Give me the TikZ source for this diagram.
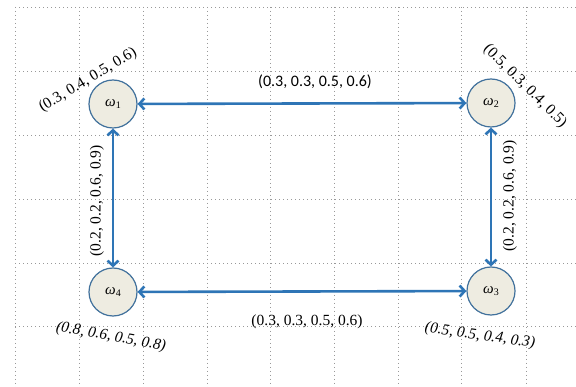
\documentclass[tikz,border=0pt]{standalone}
\usepackage{fontspec}
\setmainfont{Liberation Serif}
\newfontfamily\calfont{Carlito}
\usetikzlibrary{arrows.meta}
\definecolor{arrowblue}{HTML}{2E75B6}
\definecolor{nodeborder}{HTML}{41719C}
\definecolor{nodefill}{HTML}{EEECE1}
\definecolor{gridgray}{HTML}{999999}
\newcommand{\omg}[1]{{\itshape ω}\raisebox{-0.35ex}{\fontsize{10}{11}\selectfont #1}}
\tikzset{
  state/.style={circle, draw=nodeborder, fill=nodefill, line width=1.2pt, minimum size=48pt, inner sep=0pt, font=\fontsize{15}{17}\selectfont},
  link/.style={draw=arrowblue, line width=2.6pt, {Straight Barb[length=5pt,width=11pt]}-{Straight Barb[length=5pt,width=11pt]}},
  gridline/.style={draw=gridgray, line width=0.8pt, dash pattern=on 0.8pt off 3.2pt},
  lab/.style={inner sep=0pt, font=\fontsize{15.5}{17}\selectfont},
  labit/.style={inner sep=0pt, font=\fontsize{15.5}{17}\selectfont\itshape},
  labsans/.style={inner sep=0pt, font=\fontsize{16}{18}\selectfont\calfont}
}
\begin{document}
\begin{tikzpicture}[x=1pt,y=-1pt]
\useasboundingbox (0,0) rectangle (576,387);
\fill[white] (0,0) rectangle (576,387);
% grid
\foreach \gx in {15,79,143,207,270,334,398,461,526}
  \draw[gridline] (\gx,7) -- (\gx,387);
\foreach \gy in {7,71,135,199,263,326}
  \draw[gridline] (15,\gy) -- (576,\gy);
% nodes
\node[state] (w1) at (113,104) {\omg{1}};
\node[state] (w2) at (491,103) {\omg{2}};
\node[state] (w3) at (491,291) {\omg{3}};
\node[state] (w4) at (113,292) {\omg{4}};
% links
\draw[link] (w1) -- (w2);
\draw[link] (w1) -- (w4);
\draw[link] (w2) -- (w3);
\draw[link] (w4) -- (w3);
% labels
\node[lab, rotate=31] (l1) at (88,80) {(0.3, 0.4, 0.5, 0.6)};
\node[labsans] (l12) at (315,82) {(0.3, 0.3, 0.5, 0.6)};
\node[lab, rotate=-45] (l2) at (525,86) {(0.5, 0.3, 0.4, 0.5)};
\node[lab, rotate=90] (l14) at (97,201) {(0.2, 0.2, 0.6, 0.9)};
\node[lab, rotate=90] (l23) at (510,196) {(0.2, 0.2, 0.6, 0.9)};
\node[labit, rotate=-10] (l4) at (111,337) {(0.8, 0.6, 0.5, 0.8)};
\node[lab] (l43) at (307,322) {(0.3, 0.3, 0.5, 0.6)};
\node[labit, rotate=-8] (l3) at (480,336) {(0.5, 0.5, 0.4, 0.3)};
\end{tikzpicture}
\end{document}
